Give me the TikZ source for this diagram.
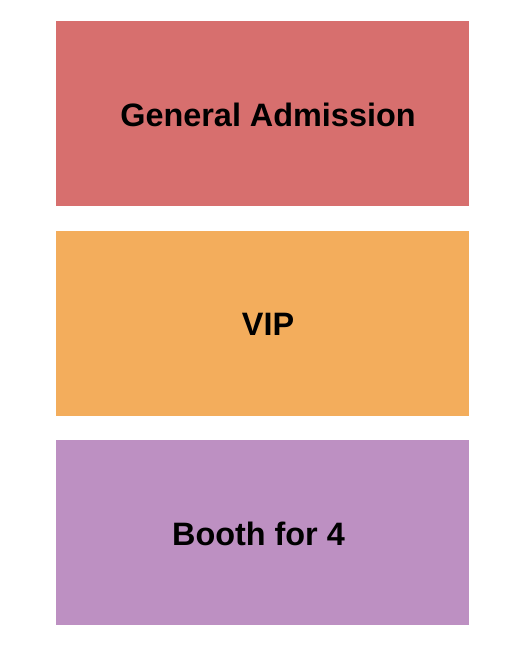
\documentclass[tikz,border=0pt]{standalone}
\usepackage{fontspec}
\setmainfont{Liberation Sans}
\usetikzlibrary{positioning}
\definecolor{colorGA}{HTML}{D76F6E}
\definecolor{colorVIP}{HTML}{F3AD5C}
\definecolor{colorBooth}{HTML}{BD90C2}
\tikzset{
   section/.style={draw=none,inner sep=0pt,minimum width=413pt,minimum height=185pt},
   label/.style={font=\fontsize{32.4}{38}\selectfont\bfseries,text=black},
}
\begin{document}
\begin{tikzpicture}[x=1pt,y=-1pt]
        \useasboundingbox[fill=white] (0,0) rectangle (525,650);

        \node[section, fill=colorGA]    (ga)    at (262.5, 113.5) {};
        \node[section, fill=colorVIP]   (vip)   at (262.5, 323)   {};
        \node[section, fill=colorBooth] (booth) at (262.5, 532.5) {};

        \node[label] (lga)    at (268, 115) {General Admission};
        \node[label] (lvip)   at (268, 324) {VIP};
        \node[label] (lbooth) at (258.5, 534) {Booth for 4};
      \end{tikzpicture}
\end{document}
